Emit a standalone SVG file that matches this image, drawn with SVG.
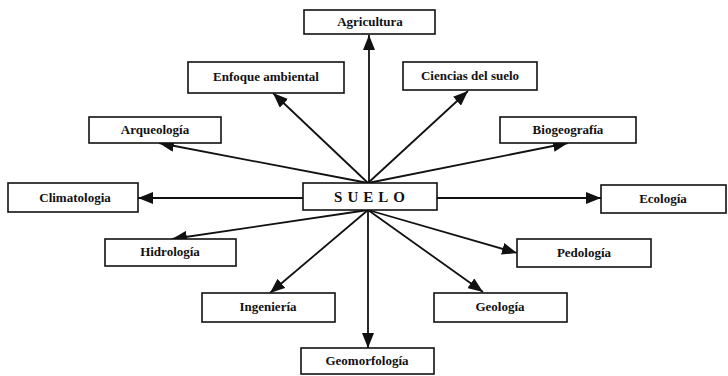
<svg xmlns="http://www.w3.org/2000/svg" width="728" height="376" viewBox="0 0 728 376">
<style>
.box{fill:#fff;stroke:#111;stroke-width:1.6}
.lbl{font-family:"Liberation Serif","Times New Roman",serif;font-size:13px;font-weight:bold;fill:#111;text-anchor:middle}
.main{font-size:15px;letter-spacing:5px}
.con{stroke:#111;stroke-width:1.8;fill:none;marker-end:url(#ah)}
</style>
<defs>
<marker id="ah" markerUnits="userSpaceOnUse" markerWidth="16" markerHeight="12" refX="15" refY="6" orient="auto">
<path d="M0,0 L15,6 L0,12 z" fill="#111"/>
</marker>
</defs>
<rect width="728" height="376" fill="#fff"/>
<g id="connectors">
<line class="con" x1="369" y1="183" x2="369" y2="35"/>
<line class="con" x1="368" y1="183" x2="273" y2="93"/>
<line class="con" x1="368" y1="183" x2="159" y2="143"/>
<line class="con" x1="368" y1="183" x2="468" y2="91"/>
<line class="con" x1="368" y1="183" x2="568" y2="143"/>
<line class="con" x1="303" y1="198" x2="138" y2="198"/>
<line class="con" x1="437" y1="198" x2="601" y2="198"/>
<line class="con" x1="368" y1="210" x2="172" y2="239"/>
<line class="con" x1="368" y1="210" x2="270" y2="293"/>
<line class="con" x1="368" y1="210" x2="517" y2="253"/>
<line class="con" x1="368" y1="210" x2="483" y2="292"/>
<line class="con" x1="368" y1="210" x2="368" y2="348"/>
</g>
<g id="suelo"><rect class="box" x="303" y="183" width="134" height="27"/><text class="lbl main" x="372" y="202">SUELO</text></g>
<g id="agricultura"><rect class="box" x="304" y="10" width="131" height="24"/><text class="lbl" x="370" y="26">Agricultura</text></g>
<g id="enfoque"><rect class="box" x="188" y="62" width="156" height="31"/><text class="lbl" x="266" y="81">Enfoque ambiental</text></g>
<g id="ciencias"><rect class="box" x="403" y="62" width="134" height="28"/><text class="lbl" x="470" y="80">Ciencias del suelo</text></g>
<g id="arqueologia"><rect class="box" x="89" y="117" width="132" height="26"/><text class="lbl" x="155" y="134">Arqueología</text></g>
<g id="biogeografia"><rect class="box" x="500" y="117" width="136" height="26"/><text class="lbl" x="568" y="134">Biogeografía</text></g>
<g id="climatologia"><rect class="box" x="8" y="183" width="130" height="29"/><text class="lbl" x="75" y="202">Climatologia</text></g>
<g id="ecologia"><rect class="box" x="601" y="185" width="125" height="28"/><text class="lbl" x="663" y="203">Ecología</text></g>
<g id="hidrologia"><rect class="box" x="105" y="239" width="131" height="27"/><text class="lbl" x="170" y="256">Hidrología</text></g>
<g id="pedologia"><rect class="box" x="517" y="239" width="134" height="28"/><text class="lbl" x="584" y="257">Pedología</text></g>
<g id="ingenieria"><rect class="box" x="202" y="293" width="133" height="29"/><text class="lbl" x="268" y="311">Ingeniería</text></g>
<g id="geologia"><rect class="box" x="434" y="293" width="133" height="29"/><text class="lbl" x="500" y="311">Geología</text></g>
<g id="geomorfologia"><rect class="box" x="301" y="348" width="133" height="26"/><text class="lbl" x="367" y="365">Geomorfología</text></g>
</svg>
